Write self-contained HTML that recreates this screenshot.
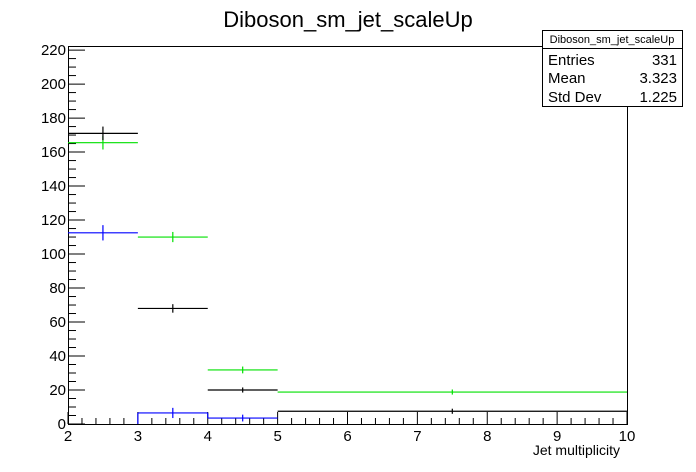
<!DOCTYPE html>
<html><head><meta charset="utf-8"><style>
body{margin:0;background:#fff;}
svg{display:block;font-family:"Liberation Sans",sans-serif;}
</style></head><body>
<svg id="c" width="696" height="472" xmlns="http://www.w3.org/2000/svg">
<rect width="696" height="472" fill="#fff"/>
<text x="348" y="27" font-size="22" text-anchor="middle">Diboson_sm_jet_scaleUp</text>
<g id="axes"></g>
<g id="marks"></g>
<g>
<rect x="542.5" y="30.5" width="140" height="76" fill="#fff" stroke="#000"/>
<line x1="542" y1="48.5" x2="682" y2="48.5" stroke="#000"/>
<text x="612" y="43" font-size="11" text-anchor="middle">Diboson_sm_jet_scaleUp</text>
<text x="548" y="65" font-size="15">Entries</text>
<text x="677" y="65" font-size="15" text-anchor="end">331</text>
<text x="548" y="83" font-size="15">Mean</text>
<text x="677" y="83" font-size="15" text-anchor="end">3.323</text>
<text x="548" y="102" font-size="15">Std Dev</text>
<text x="677" y="102" font-size="15" text-anchor="end">1.225</text>
</g>
<text x="620" y="455" font-size="14" text-anchor="end">Jet multiplicity</text>
</svg>
<script>
const binEdges=[2,3,4,5,10];
const blackVals=[171,68,20,7.5];
const blackErr=[4,2.5,1.5,1.5];
const greenVals=[165.5,110,31.8,18.8];
const greenErr=[4,3,2,1.5];
const blueVals=[112.5,6.5,3.5,0];
const blueErr=[4.5,3,2,0];
const xTicks=[2,3,4,5,6,7,8,9,10];
const yTicks=[0,20,40,60,80,100,120,140,160,180,200,220];

const L=68,R=627,T=46,B=424,xMin=2,xMax=10,yMin=0,yMax=222.4;
const NS="http://www.w3.org/2000/svg";
function X(v){return L+(v-xMin)/(xMax-xMin)*(R-L);}
function Y(v){return B-(v-yMin)/(yMax-yMin)*(B-T);}
function mk(tag,attrs,parent){const e=document.createElementNS(NS,tag);for(const k in attrs)e.setAttribute(k,attrs[k]);parent.appendChild(e);return e;}
const axes=document.getElementById('axes'),marks=document.getElementById('marks');
const frame=mk('rect',{x:L+0.5,y:T+0.5,width:R-L,height:B-T,fill:'none',stroke:'#000'},axes);


for(let v=xMin;v<=xMax+1e-9;v+=0.2){
  const major=Math.abs(v-Math.round(v))<1e-6;
  const t=mk('line',{x1:X(v),x2:X(v),y1:B,y2:B-(major?12:6),stroke:'#000'},axes);
  
  
}
xTicks.forEach(v=>{
  const t=mk('text',{x:X(v),y:441,'font-size':15,'text-anchor':'middle'},axes);t.textContent=v;
  
  
});
for(let v=0;v<=yMax;v+=5){
  const major=v%20===0;
  const t=mk('line',{x1:L,x2:L+(major?17:8),y1:Y(v),y2:Y(v),stroke:'#000'},axes);
  
  
}
yTicks.forEach(v=>{
  const t=mk('text',{x:L-2,y:Y(v)+5,'font-size':15,'text-anchor':'end'},axes);t.textContent=v;
  
  
});
function series(vals,errs,color,name){
  vals.forEach((v,i)=>{
    if(v<=0)return;
    const x0=X(binEdges[i]),x1=X(binEdges[i+1]),xc=(x0+x1)/2;
    const h=mk('line',{x1:x0,x2:x1,y1:Y(v),y2:Y(v),stroke:color,'stroke-width':1.2},marks);
    
    
    if(errs[i]>0){
      const e=mk('line',{x1:xc,x2:xc,y1:Y(v+errs[i]),y2:Y(v-errs[i]),stroke:color,'stroke-width':1.2},marks);
      
      
    }
  });
}
series(greenVals,greenErr,'#00e000','green-series');
series(blackVals,blackErr,'#000','black-series');
series(blueVals,blueErr,'#0000ff','blue-series');
const s1=mk('line',{x1:X(3),x2:X(3),y1:Y(0),y2:Y(blueVals[1]),stroke:'#0000ff','stroke-width':1.2},marks);


const s2=mk('line',{x1:X(4),x2:X(4),y1:Y(blueVals[1]),y2:Y(blueVals[2]),stroke:'#0000ff','stroke-width':1.2},marks);


</script>
</body></html>
